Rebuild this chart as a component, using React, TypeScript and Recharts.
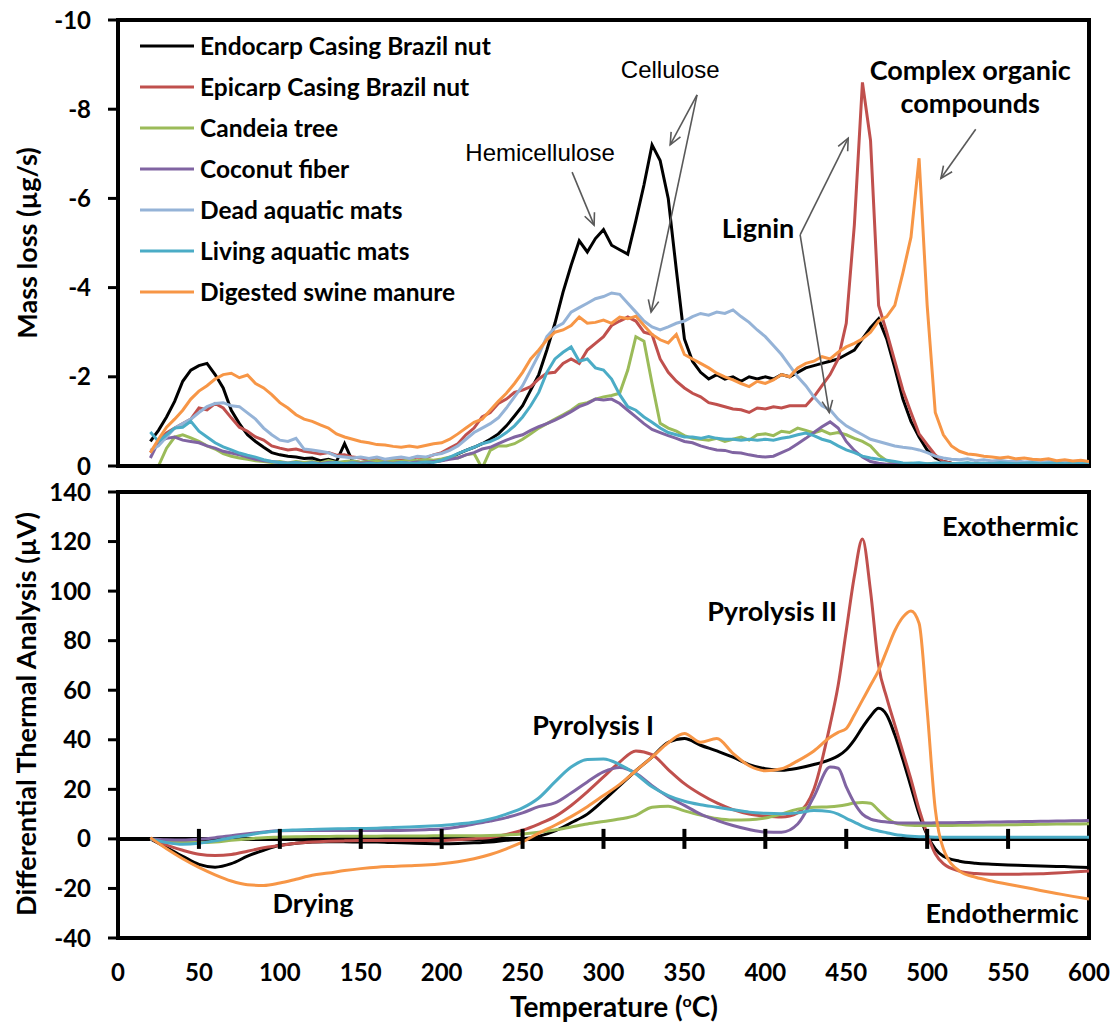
import React from "react";
import {
  LineChart,
  Line,
  XAxis,
  YAxis,
  Legend,
  ReferenceArea,
  ReferenceLine,
  ReferenceDot,
} from "recharts";

const FONT = "Lato, 'Open Sans', sans-serif";
const THIN_FONT = "'Liberation Sans', Arial, sans-serif";

// ---------- top panel: mass loss (ug/s), every 5 degC from 20 to 600 ----------
const TEMP_TOP = Array.from({ length: 117 }, (_, i) => 20 + i * 5);

const ENDOCARP_LOSS = [
  -0.55, -0.8, -1.1, -1.45, -1.9, -2.15, -2.25, -2.3, -2.05, -1.75,
  -1.25, -0.95, -0.7, -0.55, -0.42, -0.3, -0.25, -0.22, -0.2, -0.17,
  -0.18, -0.12, -0.15, -0.1, -0.5, -0.1, -0.08, -0.1, -0.06, -0.08,
  -0.05, -0.07, -0.05, -0.08, -0.06, -0.1, -0.12, -0.18, -0.27, -0.35,
  -0.42, -0.5, -0.6, -0.72, -0.9, -1.12, -1.35, -1.7, -2.05, -2.6,
  -3.2, -3.9, -4.5, -5.05, -4.8, -5.1, -5.3, -4.95, -4.85, -4.75,
  -5.5, -6.3, -7.2, -6.85, -6.0, -4.4, -2.85, -2.35, -2.1, -1.95,
  -2.05, -1.95, -2.0, -1.9, -2.0, -1.95, -2.0, -1.95, -2.05, -2.0,
  -2.1, -2.2, -2.25, -2.3, -2.35, -2.4, -2.5, -2.6, -2.85, -3.1,
  -3.3, -2.85, -2.2, -1.5, -1.0, -0.65, -0.36, -0.18, -0.1, -0.06,
  -0.05, -0.04, -0.06, -0.04, -0.05, -0.04, -0.05, -0.03, -0.05, -0.04,
  -0.04, -0.05, -0.03, -0.04, -0.05, -0.03, -0.04,
];

const EPICARP_LOSS = [
  -0.3, -0.55, -0.74, -0.85, -0.95, -1.05, -1.3, -1.26, -1.4, -1.3,
  -1.08, -0.87, -0.78, -0.65, -0.58, -0.45, -0.4, -0.36, -0.38, -0.33,
  -0.3, -0.27, -0.3, -0.24, -0.25, -0.2, -0.18, -0.15, -0.18, -0.12,
  -0.15, -0.13, -0.16, -0.2, -0.18, -0.25, -0.3, -0.4, -0.5, -0.7,
  -0.85, -1.1, -1.2, -1.4, -1.5, -1.65, -1.7, -1.78, -1.95, -2.08,
  -2.1, -2.3, -2.4, -2.3, -2.6, -2.75, -2.9, -3.15, -3.25, -3.34,
  -3.25, -3.0, -2.95, -2.4, -2.1, -1.9, -1.75, -1.63, -1.55, -1.42,
  -1.38, -1.33, -1.28, -1.26, -1.2, -1.3, -1.28, -1.33, -1.3, -1.35,
  -1.35, -1.35, -1.55, -1.8, -2.05, -2.4, -3.2, -5.4, -8.6, -7.3,
  -3.6, -3.0, -2.35, -1.7, -1.2, -0.72, -0.48, -0.25, -0.1, -0.06,
  -0.05, -0.06, -0.04, -0.05, -0.04, -0.06, -0.04, -0.05, -0.04, -0.05,
  -0.04, -0.05, -0.04, -0.06, -0.05, -0.04, -0.05,
];

const CANDEIA_LOSS = [
  null, 0, -0.4, -0.65, -0.7, -0.63, -0.55, -0.45, -0.38, -0.28,
  -0.22, -0.18, -0.15, -0.12, -0.1, -0.08, -0.1, -0.07, -0.1, -0.08,
  -0.1, -0.07, -0.12, -0.08, -0.1, -0.12, -0.08, -0.1, -0.12, -0.09,
  -0.12, -0.1, -0.14, -0.12, -0.15, -0.13, -0.16, -0.2, -0.18, -0.25,
  -0.28, 0.05, -0.35, -0.45, -0.45, -0.5, -0.6, -0.72, -0.85, -0.95,
  -1.05, -1.15, -1.25, -1.38, -1.42, -1.5, -1.55, -1.58, -1.63, -2.15,
  -2.9, -2.8, -1.85, -0.96, -0.85, -0.78, -0.68, -0.62, -0.6, -0.58,
  -0.62, -0.55, -0.6, -0.65, -0.58, -0.7, -0.72, -0.68, -0.78, -0.75,
  -0.85, -0.8, -0.74, -0.8, -0.72, -0.75, -0.7, -0.62, -0.55, -0.45,
  -0.25, -0.12, -0.07, -0.05, -0.06, -0.04, -0.05, -0.06, -0.04, -0.05,
  -0.04, -0.06, -0.05, -0.04, -0.05, -0.06, -0.04, -0.05, -0.04, -0.05,
  -0.06, -0.04, -0.05, -0.04, -0.06, -0.05, -0.04,
];

const COCONUT_LOSS = [
  -0.18, -0.55, -0.62, -0.65, -0.58, -0.55, -0.52, -0.45, -0.4, -0.33,
  -0.29, -0.25, -0.2, -0.15, -0.12, -0.1, -0.08, -0.06, -0.08, -0.05,
  -0.07, -0.05, -0.08, -0.06, -0.05, -0.07, -0.06, -0.08, -0.05, -0.07,
  -0.06, -0.08, -0.07, -0.09, -0.08, -0.1, -0.12, -0.15, -0.18, -0.25,
  -0.3, -0.38, -0.42, -0.5, -0.58, -0.65, -0.7, -0.8, -0.88, -0.95,
  -1.03, -1.12, -1.22, -1.33, -1.4, -1.5, -1.48, -1.5, -1.4, -1.25,
  -1.1, -0.95, -0.82, -0.75, -0.68, -0.62, -0.55, -0.52, -0.45, -0.4,
  -0.36, -0.35, -0.3, -0.29, -0.25, -0.22, -0.2, -0.22, -0.3, -0.38,
  -0.5, -0.62, -0.75, -0.88, -0.99, -0.85, -0.55, -0.35, -0.2, -0.1,
  -0.06, -0.04, -0.05, -0.03, -0.04, -0.05, -0.03, -0.04, -0.05, -0.03,
  -0.04, -0.05, -0.03, -0.04, -0.05, -0.03, -0.04, -0.05, -0.03, -0.04,
  -0.05, -0.03, -0.04, -0.05, -0.03, -0.04, -0.05,
];

const DEAD_MATS_LOSS = [
  -0.35, -0.45, -0.65, -0.85, -0.95, -1.05, -1.2, -1.33, -1.4, -1.42,
  -1.35, -1.33, -1.19, -1.05, -0.85, -0.7, -0.58, -0.55, -0.62, -0.38,
  -0.36, -0.33, -0.3, -0.22, -0.2, -0.18, -0.2, -0.17, -0.2, -0.15,
  -0.18, -0.2, -0.17, -0.22, -0.2, -0.25, -0.28, -0.35, -0.45, -0.6,
  -0.75, -0.85, -0.95, -1.08, -1.3, -1.55, -1.8, -2.15, -2.5, -2.9,
  -3.1, -3.2, -3.45, -3.55, -3.65, -3.75, -3.8, -3.88, -3.85, -3.65,
  -3.45, -3.25, -3.12, -3.05, -3.12, -3.2, -3.25, -3.35, -3.42, -3.38,
  -3.45, -3.42, -3.5, -3.35, -3.22, -3.05, -2.9, -2.7, -2.5, -2.25,
  -2.0, -1.8, -1.55, -1.35, -1.26, -1.05, -0.9, -0.8, -0.7, -0.6,
  -0.55, -0.5, -0.45, -0.42, -0.4, -0.36, -0.3, -0.22, -0.18, -0.15,
  -0.14, -0.16, -0.12, -0.14, -0.11, -0.13, -0.1, -0.12, -0.09, -0.1,
  -0.08, -0.1, -0.08, -0.09, -0.07, -0.08, -0.07,
];

const LIVING_MATS_LOSS = [
  -0.76, -0.55, -0.7, -0.85, -0.87, -1.0, -0.78, -0.65, -0.52, -0.43,
  -0.36, -0.29, -0.24, -0.2, -0.14, -0.1, -0.08, -0.06, -0.08, -0.05,
  -0.07, -0.04, -0.06, -0.08, -0.05, -0.07, -0.04, -0.06, -0.05, -0.07,
  -0.05, -0.08, -0.06, -0.07, -0.09, -0.08, -0.13, -0.2, -0.28, -0.35,
  -0.42, -0.5, -0.55, -0.63, -0.75, -0.9, -1.1, -1.35, -1.65, -2.1,
  -2.4, -2.55, -2.67, -2.35, -2.4, -2.2, -2.15, -1.95, -1.6, -1.33,
  -1.25, -1.1, -0.98, -0.85, -0.75, -0.7, -0.65, -0.65, -0.62, -0.66,
  -0.62, -0.6, -0.6, -0.58, -0.6, -0.58, -0.6, -0.58, -0.62, -0.65,
  -0.7, -0.74, -0.68, -0.6, -0.55, -0.45, -0.36, -0.3, -0.22, -0.18,
  -0.15, -0.13, -0.1, -0.07, -0.06, -0.07, -0.05, -0.06, -0.07, -0.05,
  -0.06, -0.07, -0.05, -0.06, -0.05, -0.07, -0.06, -0.05, -0.06, -0.07,
  -0.05, -0.06, -0.07, -0.05, -0.06, -0.05, -0.06,
];

const SWINE_LOSS = [
  -0.3, -0.6, -0.87, -1.05, -1.25, -1.5, -1.68, -1.8, -1.95, -2.05,
  -2.08, -1.98, -2.04, -1.85, -1.75, -1.6, -1.42, -1.3, -1.15, -1.05,
  -1.0, -0.92, -0.85, -0.72, -0.65, -0.6, -0.55, -0.52, -0.48, -0.47,
  -0.44, -0.42, -0.45, -0.42, -0.46, -0.5, -0.52, -0.6, -0.72, -0.85,
  -0.98, -1.05, -1.25, -1.45, -1.63, -1.85, -2.1, -2.4, -2.6, -2.83,
  -3.0, -3.05, -3.15, -3.34, -3.2, -3.22, -3.27, -3.2, -3.34, -3.3,
  -3.36, -3.15, -2.95, -2.83, -2.76, -2.95, -2.5, -2.4, -2.3, -2.2,
  -2.08, -2.0, -1.93, -1.85, -1.78, -1.9, -1.85, -1.93, -2.05, -2.0,
  -2.2, -2.3, -2.35, -2.45, -2.4, -2.55, -2.67, -2.75, -2.85, -3.0,
  -3.25, -3.35, -3.6, -4.33, -5.13, -6.9, -3.6, -1.2, -0.7, -0.45,
  -0.33, -0.27, -0.25, -0.22, -0.2, -0.18, -0.2, -0.16, -0.18, -0.15,
  -0.14, -0.16, -0.12, -0.14, -0.11, -0.13, -0.1,
];

// ---------- bottom panel: DTA (uV) ----------
const TEMP_DTA = [
  20, 30, 40, 50, 60, 70, 80, 90, 100, 110,
  120, 130, 140, 150, 160, 170, 180, 190, 200, 210,
  220, 230, 240, 250, 260, 270, 280, 290, 300, 310,
  320, 330, 340, 350, 360, 370, 380, 390, 400, 410,
  420, 430, 440, 445, 450, 455, 460, 465, 470, 475,
  480, 485, 490, 495, 500, 505, 510, 520, 530, 540,
  550, 560, 570, 580, 590, 600,
];

const ENDOCARP_DTA = [
  0, -3.5, -7, -10.3, -11.4, -10, -7, -4.6, -2.6, -1.8,
  -1.3, -1.2, -1.2, -1.3, -1.3, -1.5, -1.7, -1.9, -2.0, -1.9,
  -1.6, -1.3, -0.6, 0, 1.0, 3.2, 6.5, 10, 15.5, 21.5,
  27.5, 33, 39, 40.5, 37.8, 35.5, 33, 30, 28.3, 27.7,
  28.5, 30, 32, 33.5, 36, 40, 45, 49.5, 52.7, 50,
  42, 32, 21, 10, 1.5, -4, -7, -9, -9.8, -10.2,
  -10.5, -10.7, -10.9, -11.1, -11.3, -11.5,
];

const EPICARP_DTA = [
  0, -2.5, -4.6, -6.2, -6.7, -6.3, -5, -3.6, -2.7, -1.8,
  -1.3, -1.0, -0.8, -0.7, -0.7, -0.7, -0.7, -0.7, -0.6, -0.3,
  0.1, 0.6, 1.8, 3.5, 6, 9, 13.5, 19, 25, 31,
  35.5, 34, 28, 22.3, 18, 14.5, 11.8, 10, 9.2, 8.8,
  10.5, 20, 46, 62, 84, 106, 121, 100, 70, 57,
  46, 35, 24, 12, 2, -6, -10, -13, -14, -14.3,
  -14.3, -14.2, -14.1, -13.8, -13.4, -13,
];

const CANDEIA_DTA = [
  0, -1, -1.4, -1.5, -1.3, -0.6, 0, 0.5, 0.7, 0.9,
  1.0, 1.0, 1.1, 1.1, 1.1, 1.2, 1.2, 1.2, 1.3, 1.3,
  1.3, 1.4, 1.6, 2.0, 2.7, 3.6, 4.8, 6.0, 7.0, 8.0,
  9.5, 12.8, 13.2, 11.3, 9.6, 8.2, 7.6, 7.7, 8.4, 10,
  12, 12.8, 13, 13.3, 13.8, 14.5, 14.7, 14.4, 11.5, 8.5,
  6.5, 5.8, 5.5, 5.4, 5.4, 5.4, 5.4, 5.5, 5.5, 5.6,
  5.7, 5.8, 5.9, 6.0, 6.0, 6.1,
];

const COCONUT_DTA = [
  0, -0.3, -0.4, -0.1, 0.5, 1.3, 2.1, 2.8, 3.3, 3.4,
  3.4, 3.4, 3.4, 3.4, 3.4, 3.4, 3.5, 3.7, 4.0, 4.8,
  6, 7.2, 8.6, 10.5, 13, 14.5, 18.5, 23, 27, 28.8,
  26.5, 21.5, 17, 13.5, 10, 7.5, 5.4, 3.8, 2.8, 2.7,
  6, 17, 29, 28.5, 21, 14.5, 10, 8, 7.2, 6.8,
  6.5, 6.4, 6.4, 6.4, 6.4, 6.5, 6.5, 6.6, 6.7, 6.8,
  6.9, 7.0, 7.1, 7.2, 7.3, 7.4,
];

const LIVING_MATS_DTA = [
  0, -1.5, -2.2, -1.8, -0.8, 0.5, 1.5, 2.6, 3.3, 3.6,
  3.8, 4.0, 4.1, 4.2, 4.3, 4.6, 4.8, 5.1, 5.4, 6,
  6.7, 8, 10, 12.5, 16.5, 23, 29, 32, 32.2, 30,
  26.2, 21, 17.5, 15.2, 13.8, 12.8, 11.8, 10.8, 10.3, 10.1,
  10.5, 11.5, 11, 10, 8.3, 6.8, 5.2, 4, 3.2, 2.5,
  1.8, 1.4, 1.1, 0.9, 0.8, 0.7, 0.7, 0.7, 0.7, 0.7,
  0.7, 0.7, 0.7, 0.7, 0.7, 0.7,
];

const SWINE_DTA = [
  0.5, -4, -8, -11.5, -14.5, -17, -18.5, -18.8, -17.8, -16.3,
  -14.7, -13.8, -12.8, -12, -11.4, -11.1, -10.8, -10.5, -10, -9.2,
  -8, -6.3, -4, -1.2, 2.3, 5.5, 9, 13, 17.5, 22,
  27.5, 33, 38.8, 42.5, 39, 40.5, 34.5, 29.5, 27.5, 28.3,
  31.5, 35.5, 41, 43, 44.5, 50, 56, 62, 68, 76,
  84, 89.5, 92, 87, 52, 12, -4, -13, -15.5, -17,
  -18.3, -19.5, -20.8, -22, -23.2, -24.3,
];

const X_TICKS = [0, 50, 100, 150, 200, 250, 300, 350, 400, 450, 500, 550, 600];
const INNER_X_TICKS = [50, 100, 150, 200, 250, 300, 350, 400, 450, 500, 550];
const LOSS_TICKS = [-10, -8, -6, -4, -2, 0];
const DTA_TICKS = [-40, -20, 0, 20, 40, 60, 80, 100, 120, 140];

const SERIES = [
  { key: "endocarp", name: "Endocarp Casing Brazil nut", color: "#000000" },
  { key: "epicarp", name: "Epicarp Casing Brazil nut", color: "#C0504D" },
  { key: "candeia", name: "Candeia tree", color: "#9BBB59" },
  { key: "coconut", name: "Coconut fiber", color: "#8064A2" },
  { key: "dead", name: "Dead aquatic mats", color: "#95B3D7" },
  { key: "living", name: "Living aquatic mats", color: "#4BACC6" },
  { key: "swine", name: "Digested swine manure", color: "#F79646" },
];
// order in which lines are painted (swine drawn last, on top)
const DRAW_ORDER = ["endocarp", "epicarp", "candeia", "coconut", "dead", "living", "swine"];

const topData = TEMP_TOP.map((t, i) => ({
  t,
  endocarp: ENDOCARP_LOSS[i],
  epicarp: EPICARP_LOSS[i],
  candeia: CANDEIA_LOSS[i],
  coconut: COCONUT_LOSS[i],
  dead: DEAD_MATS_LOSS[i],
  living: LIVING_MATS_LOSS[i],
  swine: SWINE_LOSS[i],
}));

const dtaData = TEMP_DTA.map((t, i) => ({
  t,
  endocarp: ENDOCARP_DTA[i],
  epicarp: EPICARP_DTA[i],
  candeia: CANDEIA_DTA[i],
  coconut: COCONUT_DTA[i],
  living: LIVING_MATS_DTA[i],
  swine: SWINE_DTA[i],
}));

// annotations (data coordinates)
const TOP_ARROWS = [
  { from: [280.6, -6.59], to: [294.2, -5.4] },
  { from: [357.8, -8.32], to: [341.2, -7.2] },
  { from: [357.8, -8.32], to: [329.4, -3.45] },
  { from: [421.5, -5.18], to: [451.2, -7.35] },
  { from: [421.5, -5.18], to: [439.5, -1.2] },
  { from: [530, -7.55], to: [508.5, -6.45] },
];

const TOP_NOTES = [
  { t: 260.8, v: -7.04, text: "Hemicellulose", bold: false },
  { t: 341.2, v: -8.88, text: "Cellulose", bold: false },
  { t: 395.5, v: -5.34, text: "Lignin", bold: true },
  { t: 526.6, v: -8.9, text: "Complex organic", bold: true },
  { t: 526.6, v: -8.14, text: "compounds", bold: true },
];

const DTA_NOTES = [
  { t: 293.6, v: 46, text: "Pyrolysis I" },
  { t: 404.2, v: 92.3, text: "Pyrolysis II" },
  { t: 551.3, v: 126.6, text: "Exothermic" },
  { t: 546.4, v: -29.8, text: "Endothermic" },
  { t: 120.5, v: -25.8, text: "Drying" },
];

const Arrow = (p: any) => {
  const { x1, y1, x2, y2 } = p;
  const a = Math.atan2(y2 - y1, x2 - x1);
  const L = 13;
  const spread = 0.42;
  const hx1 = x2 - L * Math.cos(a - spread);
  const hy1 = y2 - L * Math.sin(a - spread);
  const hx2 = x2 - L * Math.cos(a + spread);
  const hy2 = y2 - L * Math.sin(a + spread);
  return (
    <g stroke="#595959" strokeWidth={1.6} fill="none">
      <line x1={x1} y1={y1} x2={x2} y2={y2} />
      <polyline points={`${hx1},${hy1} ${x2},${y2} ${hx2},${hy2}`} />
    </g>
  );
};

const noteShape = (text: string, bold: boolean) => (p: any) => (
  <text
    x={p.cx}
    y={p.cy}
    textAnchor="middle"
    dominantBaseline="central"
    fill="#000"
    fontFamily={bold ? FONT : THIN_FONT}
    fontWeight={bold ? 700 : 400}
    fontSize={bold ? 27 : 24}
  >
    {text}
  </text>
);

const CrossTick = (p: any) => (
  <line x1={p.cx} x2={p.cx} y1={p.cy - 10} y2={p.cy + 10} stroke="#000" strokeWidth={4} />
);

const LegendBox = () => (
  <div style={{ fontFamily: FONT, fontWeight: 700, fontSize: 24.5, color: "#000" }}>
    {SERIES.map((s) => (
      <div key={s.key} style={{ display: "flex", alignItems: "center", height: 41, whiteSpace: "nowrap" }}>
        <svg width={58} height={8} style={{ marginRight: 4 }}>
          <line x1={2} x2={56} y1={4} y2={4} stroke={s.color} strokeWidth={3} />
        </svg>
        <span>{s.name}</span>
      </div>
    ))}
  </div>
);

const tickStyle = { fill: "#000", fontSize: 24, fontWeight: 700, fontFamily: FONT };
const axisStroke = { stroke: "#000", strokeWidth: 4 };
const tickStroke = { stroke: "#000", strokeWidth: 3 };

const titleStyle: React.CSSProperties = {
  position: "absolute",
  fontFamily: FONT,
  fontWeight: 700,
  fontSize: 27,
  lineHeight: 1,
  color: "#000",
  whiteSpace: "nowrap",
  transform: "translate(-50%, -50%)",
};

export default function App() {
  const colorOf = (k: string) => SERIES.find((s) => s.key === k)!.color;
  return (
    <div style={{ position: "absolute", left: 0, top: 0, width: 1111, height: 1024, background: "#fff" }}>
      <div style={{ position: "absolute", left: 0, top: 0 }}>
        <LineChart width={1111} height={480} data={topData} margin={{ top: 20, right: 22, bottom: 4, left: 18 }}>
          <XAxis
            dataKey="t"
            type="number"
            domain={[0, 600]}
            ticks={X_TICKS}
            tick={false}
            tickSize={10}
            height={10}
            axisLine={axisStroke}
            tickLine={tickStroke}
            allowDataOverflow
          />
          <YAxis
            type="number"
            domain={[-10, 0]}
            reversed
            ticks={LOSS_TICKS}
            width={100}
            tickSize={10}
            tickMargin={17}
            tick={tickStyle}
            axisLine={axisStroke}
            tickLine={tickStroke}
            allowDataOverflow
          />
          <ReferenceArea x1={0} x2={600} y1={-10} y2={0} fill="none" stroke="#000" strokeWidth={4} />
          {DRAW_ORDER.map((k) => (
            <Line
              key={k}
              dataKey={k}
              type="linear"
              stroke={colorOf(k)}
              strokeWidth={3}
              dot={false}
              isAnimationActive={false}
            />
          ))}
          {TOP_ARROWS.map((a, i) => (
            <ReferenceLine
              key={"a" + i}
              segment={[
                { x: a.from[0], y: a.from[1] },
                { x: a.to[0], y: a.to[1] },
              ]}
              shape={Arrow}
            />
          ))}
          {TOP_NOTES.map((n) => (
            <ReferenceDot key={n.text} x={n.t} y={n.v} r={0} shape={noteShape(n.text, n.bold)} />
          ))}
          <Legend
            layout="vertical"
            align="center"
            verticalAlign="middle"
            wrapperStyle={{ left: 138, top: 25, width: 440 }}
            content={() => <LegendBox />}
          />
        </LineChart>
      </div>

      <div style={{ position: "absolute", left: 0, top: 460 }}>
        <LineChart width={1111} height={564} data={dtaData} margin={{ top: 32, right: 22, bottom: 36, left: 18 }}>
          <XAxis
            dataKey="t"
            type="number"
            domain={[0, 600]}
            ticks={X_TICKS}
            tick={tickStyle}
            tickSize={0}
            tickMargin={26}
            height={50}
            axisLine={axisStroke}
            tickLine={false}
            allowDataOverflow
          />
          <YAxis
            type="number"
            domain={[-40, 140]}
            ticks={DTA_TICKS}
            width={100}
            tickSize={10}
            tickMargin={17}
            tick={tickStyle}
            axisLine={axisStroke}
            tickLine={tickStroke}
            allowDataOverflow
          />
          <ReferenceArea x1={0} x2={600} y1={-40} y2={140} fill="none" stroke="#000" strokeWidth={4} />
          <ReferenceLine y={0} stroke="#000" strokeWidth={4} />
          {INNER_X_TICKS.map((t) => (
            <ReferenceDot key={"tk" + t} x={t} y={0} r={0} shape={CrossTick} />
          ))}
          {DRAW_ORDER.filter((k) => k !== "dead").map((k) => (
            <Line
              key={k}
              dataKey={k}
              type="monotone"
              stroke={colorOf(k)}
              strokeWidth={3}
              dot={false}
              isAnimationActive={false}
            />
          ))}
          {DTA_NOTES.map((n) => (
            <ReferenceDot key={n.text} x={n.t} y={n.v} r={0} shape={noteShape(n.text, true)} />
          ))}
        </LineChart>
      </div>

      <div style={{ ...titleStyle, left: 26, top: 243, transform: "translate(-50%, -50%) rotate(-90deg)" }}>
        Mass loss (µg/s)
      </div>
      <div style={{ ...titleStyle, left: 25, top: 714, transform: "translate(-50%, -50%) rotate(-90deg)" }}>
        Differential Thermal Analysis (µV)
      </div>
      <div style={{ ...titleStyle, fontSize: 28, left: 614, top: 1006 }}>
        Temperature (<sup style={{ fontSize: 16, lineHeight: 0 }}>o</sup>C)
      </div>
    </div>
  );
}
